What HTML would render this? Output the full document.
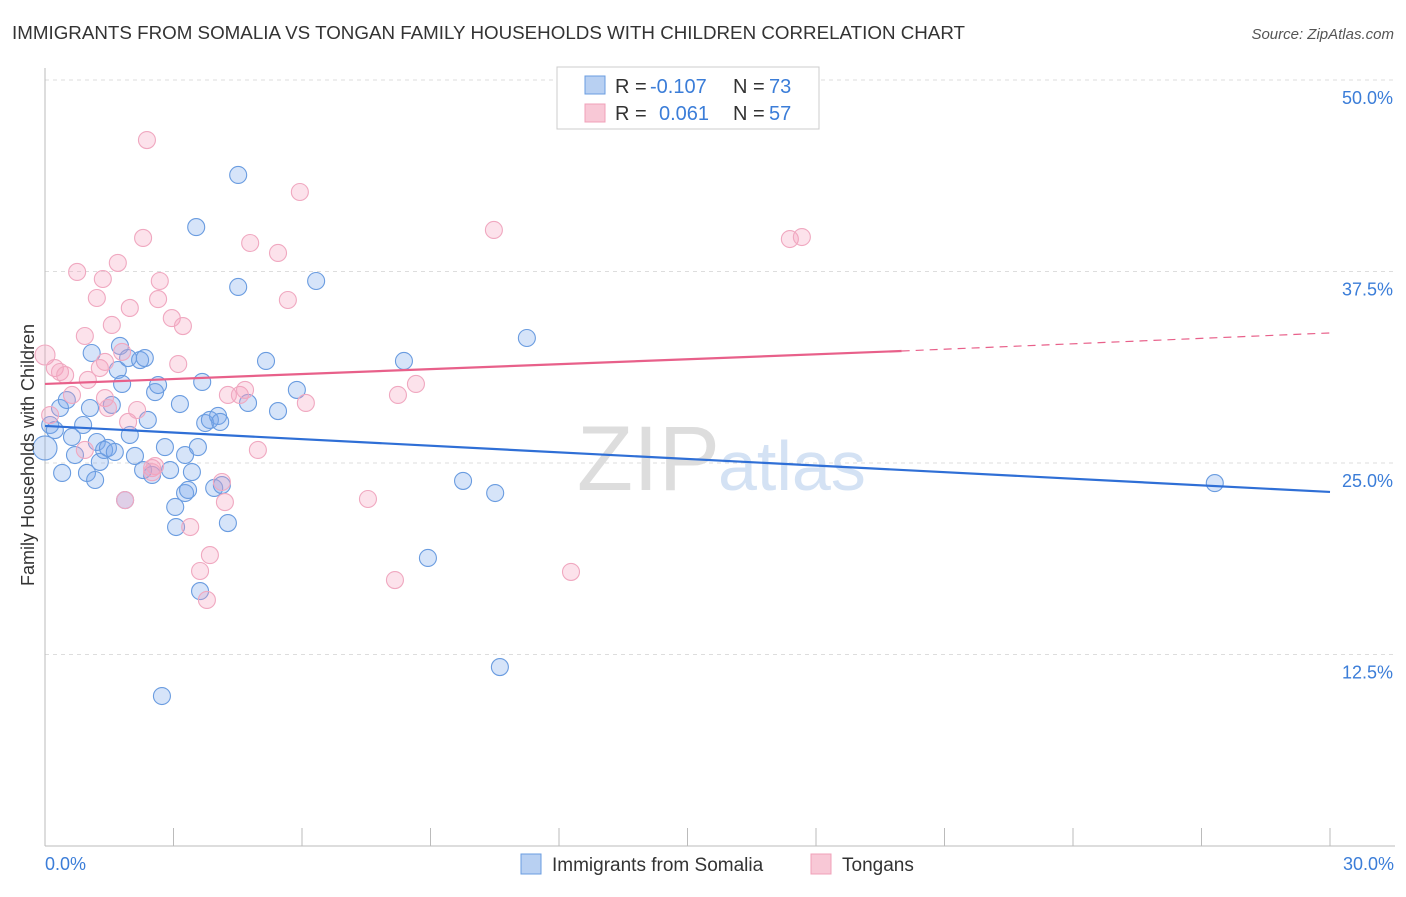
<!DOCTYPE html>
<html><head><meta charset="utf-8"><style>
body{margin:0;background:#fff;font-family:"Liberation Sans",sans-serif;}
svg text{font-family:"Liberation Sans",sans-serif;}
</style></head><body>
<svg width="1406" height="892" viewBox="0 0 1406 892">
<text x="12" y="39" font-size="18" fill="#333" textLength="953" lengthAdjust="spacingAndGlyphs">IMMIGRANTS FROM SOMALIA VS TONGAN FAMILY HOUSEHOLDS WITH CHILDREN CORRELATION CHART</text>
<text x="1394" y="39" font-size="15" fill="#555" font-style="italic" text-anchor="end">Source: ZipAtlas.com</text>
<g id="grid"></g>
<line x1="45" y1="68" x2="45" y2="846" stroke="#bbb"/>
<line x1="45" y1="846" x2="1395" y2="846" stroke="#bbb"/>
<text x="720" y="490" font-size="92" fill="#ddd" text-anchor="end" font-family="Liberation Serif">ZIP</text>
<text x="718" y="490" font-size="70" fill="#d4e2f4">atlas</text>
<g id="marks"></g>
<text x="34" y="455" font-size="18" fill="#333" text-anchor="middle" transform="rotate(-90 34 455)">Family Households with Children</text>
<text x="45" y="870" font-size="18" fill="#3b7dd8">0.0%</text>
<text x="1394" y="870" font-size="18" fill="#3b7dd8" text-anchor="end">30.0%</text>
<rect x="557" y="67" width="262" height="62" fill="#fff" stroke="#ccc"/>
<rect x="585" y="76" width="20" height="18" fill="#b8d0f2" stroke="#6a9ce0"/>
<rect x="585" y="104" width="20" height="18" fill="#f8c8d6" stroke="#f0a0b8"/>
<g font-size="20">
<text x="615" y="93" fill="#333">R =</text><text x="650" y="93" fill="#3b7dd8">-0.107</text>
<text x="733" y="93" fill="#333">N =</text><text x="769" y="93" fill="#3b7dd8">73</text></g>
<g font-size="20">
<text x="615" y="120" fill="#333">R =</text><text x="659" y="120" fill="#3b7dd8">0.061</text>
<text x="733" y="120" fill="#333">N =</text><text x="769" y="120" fill="#3b7dd8">57</text></g>
<rect x="521" y="854" width="20" height="20" fill="#b8d0f2" stroke="#6a9ce0"/>
<text x="552" y="871" font-size="19" fill="#333">Immigrants from Somalia</text>
<rect x="811" y="854" width="20" height="20" fill="#f8c8d6" stroke="#f0a0b8"/>
<text x="842" y="871" font-size="19" fill="#333">Tongans</text>
</svg>
<script>
const yTicks=[12.5,25,37.5,50];
const yTickLabels=["12.5%","25.0%","37.5%","50.0%"];
const xTicks=[0,3,6,9,12,15,18,21,24,27,30];
const somaliaX=[0,0.12,0.23,0.35,0.40,0.51,0.63,0.70,0.89,0.98,1.05,1.09,1.17,1.21,1.28,1.38,1.47,1.56,1.63,1.70,1.75,1.80,1.94,1.98,2.10,2.22,2.29,2.33,2.40,2.50,2.57,2.64,2.80,2.92,3.04,3.06,3.15,3.27,3.27,3.34,3.43,3.53,3.57,3.62,3.67,3.74,3.85,3.95,4.04,4.09,4.13,4.27,4.51,4.51,4.74,5.16,5.44,5.88,6.33,8.38,8.94,9.76,10.51,10.62,11.25,27.31,2.73,1.87];
const somaliaY=[25.98,27.48,27.15,28.59,24.35,29.11,26.70,25.52,27.48,24.35,28.59,32.18,23.89,26.37,25.07,25.85,25.98,28.79,25.72,31.07,32.64,30.16,31.85,26.83,25.46,31.72,24.54,31.85,27.81,24.22,29.63,30.09,26.04,24.54,22.13,20.82,28.85,25.52,23.04,23.24,24.41,40.40,26.04,16.64,30.29,27.61,27.81,23.37,28.07,27.68,23.56,21.08,43.80,36.49,28.92,31.66,28.39,29.77,36.88,31.66,18.80,23.83,23.04,11.68,33.16,23.69,9.79,22.58];
const tongansX=[0,0.12,0.23,0.35,0.47,0.63,0.75,0.93,1.00,1.21,1.28,1.35,1.40,1.47,1.56,1.70,1.80,1.87,1.94,1.98,2.15,2.29,2.38,2.50,2.57,2.64,2.68,2.96,3.11,3.22,3.39,3.62,3.78,3.85,4.13,4.20,4.27,4.55,4.67,4.79,4.97,5.44,5.67,5.95,6.09,7.54,8.17,8.24,8.66,10.48,12.28,17.39,17.67,0.93,1.40,2.50];
const tongansY=[32.05,28.13,31.20,30.94,30.74,29.44,37.47,33.29,30.42,35.77,31.20,37.01,29.24,28.59,34.01,38.06,32.25,22.58,27.68,35.12,28.46,39.69,46.08,24.67,24.80,35.70,36.88,34.46,31.46,33.94,20.82,17.95,16.06,18.99,23.76,22.45,29.44,29.44,29.77,39.36,25.85,38.71,35.64,42.69,28.92,22.65,17.36,29.44,30.16,40.21,17.89,39.62,39.75,25.85,31.60,24.40];
const somaliaTrend=[27.42,23.11];
const tongansTrend=[30.16,32.31,33.49];
const tongansSolidEnd=[20];
const NS="http://www.w3.org/2000/svg";
function sx(v){return 45+v/30*1285;}
function sy(v){return 846-v/12.5*191.5;}
function mk(t,a,p){const e=document.createElementNS(NS,t);for(const k in a)e.setAttribute(k,a[k]);p.appendChild(e);return e;}
const grid=document.getElementById('grid'),marks=document.getElementById('marks');
yTicks.forEach((t,i)=>{
 const l=mk('line',{x1:45,x2:1395,y1:sy(t),y2:sy(t),stroke:'#ddd','stroke-dasharray':'4,4'},grid);
 
 
 const tx=mk('text',{x:1393,y:sy(t)+24,'font-size':18,fill:'#3b7dd8','text-anchor':'end'},grid);
 tx.textContent=yTickLabels[i];
 
 
});
xTicks.forEach(t=>{
 const l=mk('line',{x1:sx(t),x2:sx(t),y1:828,y2:846,stroke:'#bbb'},grid);
 
 
});
somaliaX.forEach((x,i)=>{
 const c=mk('circle',{cx:sx(x),cy:sy(somaliaY[i]),r:i==0?12:8.5,fill:'rgba(120,165,235,0.3)',stroke:'#6a9ce0','stroke-width':1.1},marks);
 
 
});
tongansX.forEach((x,i)=>{
 const c=mk('circle',{cx:sx(x),cy:sy(tongansY[i]),r:i==0?10:8.5,fill:'rgba(245,160,190,0.3)',stroke:'#f0a8c0','stroke-width':1.1},marks);
 
 
});
const bl=mk('line',{x1:sx(0),y1:sy(somaliaTrend[0]),x2:sx(30),y2:sy(somaliaTrend[1]),stroke:'#2f6fd6','stroke-width':2.2},marks);


const pl=mk('line',{x1:sx(0),y1:sy(tongansTrend[0]),x2:sx(tongansSolidEnd[0]),y2:sy(tongansTrend[1]),stroke:'#e8608a','stroke-width':2.2},marks);


const pd=mk('line',{x1:sx(tongansSolidEnd[0]),y1:sy(tongansTrend[1]),x2:sx(30),y2:sy(tongansTrend[2]),stroke:'#e8608a','stroke-width':1.2,'stroke-dasharray':'8,6'},marks);


</script>
</body></html>
